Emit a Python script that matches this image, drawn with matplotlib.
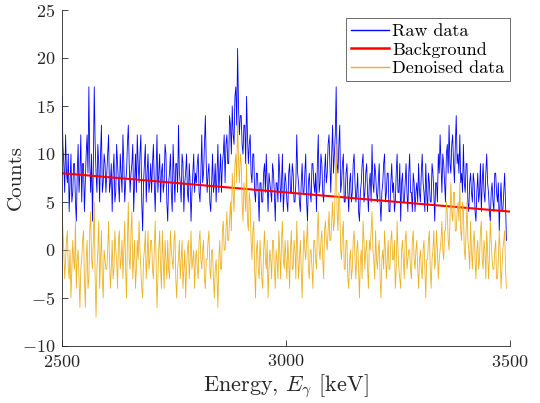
import numpy as np
import matplotlib
matplotlib.use("Agg")
import matplotlib.pyplot as plt

plt.rcParams['font.family'] = 'serif'
plt.rcParams['font.serif'] = ['cmr10', 'DejaVu Serif']
plt.rcParams['mathtext.fontset'] = 'cm'
plt.rcParams['axes.unicode_minus'] = False
plt.rcParams['axes.formatter.use_mathtext'] = True

# energy bins [keV], 2 keV wide
energy = np.arange(2500, 3501, 2)

raw = [
    16, 11, 9, 6, 12, 8, 7, 10, 4, 7, 10, 5, 6, 9, 9, 5, 3, 8, 11, 6, 8, 12, 5, 9, 9,
    4, 7, 10, 12, 8, 17, 9, 6, 10, 3, 9, 17, 11, 8, 6, 11, 9, 5, 10, 13, 6, 7, 10, 9, 6,
    8, 10, 12, 6, 7, 9, 4, 8, 10, 5, 6, 11, 9, 7, 5, 10, 8, 6, 12, 9, 5, 7, 8, 11, 13,
    9, 6, 8, 9, 11, 4, 7, 10, 6, 12, 9, 7, 10, 12, 5, 2, 7, 9, 11, 5, 8, 10, 6, 7, 9,
    6, 9, 11, 7, 4, 8, 12, 6, 8, 10, 5, 8, 9, 6, 7, 11, 10, 5, 3, 7, 8, 10, 6, 4, 11,
    8, 5, 9, 9, 6, 13, 8, 7, 5, 10, 9, 4, 7, 8, 10, 6, 5, 9, 7, 3, 6, 8, 10, 6, 8,
    7, 9, 10, 6, 5, 8, 12, 7, 8, 11, 14, 9, 6, 8, 9, 5, 4, 7, 10, 6, 7, 9, 5, 8, 11,
    6, 8, 10, 6, 9, 10, 12, 7, 11, 12, 9, 9, 14, 13, 10, 15, 12, 11, 16, 17, 13, 21, 15, 12, 14,
    14, 11, 10, 13, 13, 9, 16, 12, 9, 11, 12, 8, 7, 10, 10, 6, 5, 8, 8, 6, 3, 7, 7, 5, 5,
    8, 9, 6, 10, 7, 4, 8, 7, 6, 5, 9, 8, 6, 3, 7, 7, 5, 10, 8, 5, 7, 10, 4, 6, 8,
    7, 5, 4, 8, 9, 6, 6, 9, 8, 5, 5, 7, 12, 8, 7, 5, 4, 7, 9, 6, 6, 8, 10, 5, 3,
    7, 8, 6, 5, 9, 9, 7, 6, 8, 4, 9, 12, 6, 7, 10, 9, 6, 5, 8, 10, 7, 8, 11, 12, 9,
    6, 10, 13, 8, 10, 12, 17, 9, 8, 11, 13, 6, 7, 9, 10, 5, 5, 8, 9, 6, 4, 7, 8, 5,
    6, 9, 10, 7, 5, 6, 8, 4, 3, 6, 7, 9, 10, 5, 6, 8, 9, 6, 4, 7, 8, 5, 11, 7, 6, 9,
    8, 6, 5, 7, 9, 5, 3, 6, 7, 9, 10, 5, 6, 8, 8, 4, 4, 7, 9, 6, 7, 4, 5, 8, 10, 6,
    6, 9, 3, 7, 8, 5, 5, 7, 9, 6, 4, 8, 10, 6, 6, 4, 8, 7, 4, 6,
    7, 5, 9, 6, 5, 8, 10, 7, 6, 4, 9, 6, 4, 8, 7, 5, 5, 9, 8, 6, 3, 7, 7, 5, 10,
    8, 12, 9, 6, 10, 9, 7, 5, 10, 11, 8, 13, 9, 8, 11, 12, 9, 7, 11, 14, 9, 10, 8, 12, 7,
    8, 6, 11, 7, 6, 9, 9, 5, 4, 7, 8, 6, 5, 8, 7, 4, 3, 6, 8, 5, 6, 9, 4, 7, 9,
    6, 5, 8, 10, 7, 6, 4, 3, 6, 7, 5, 4, 8, 8, 6, 5, 7, 2, 5, 7, 4, 4, 6, 8, 5, 1,
]

denoised = [
    5, 2, 0, -3, -1, 1, 2, -2, -3, 0, -5, -2, 1, -1, -2, 3, -4, -1, 0, -3, -6, -2, -1, 1, 2,
    -3, -6, -1, 1, -4, -3, 2, 4, -1, -2, 1, 5, -3, -7, -2, 0, 3, -4, -1, 2, -3, -5, 0, -1, -2,
    -2, 0, 3, -1, -4, -2, 1, -3, -2, 2, 0, -1, -4, 1, 2, -2, -1, 1, -3, 0, 3, -2, -5, 1, 5,
    -1, -2, 2, 4, -3, -1, 1, -4, -2, 1, -1, 3, 0, -2, -4, -5, -1, 0, 2, -3, -1, 2, -2, -1, 1,
    1, -2, -3, 0, 3, -1, -6, -3, 0, 2, -2, -4, 2, -1, -4, 1, -1, -3, 1, -2, -3, 2, 0, -1, -2,
    1, 2, -3, -5, -2, -1, 1, -3, -1, 1, -4, -2, 0, -5, -2, 0, 1, -3, -1, 2, -2, -1, 0, -4, -1,
    0, -2, -3, 1, 2, -1, -2, 0, 1, -3, -4, -1, -1, 1, 2, -2, -3, 0, 0, -3, -5, -2, -1, -3, -6,
    -1, 1, -2, -2, 2, 3, 0, 0, 2, 4, 1, 1, 3, 5, 2, 8, 6, 4, 9, 10, 7, 14, 9, 7, 10,
    9, 5, 3, 7, 6, 4, 9, 3, 2, 6, 5, 1, -1, 2, 3, -2, -5, 0, 1, -2, -3, 1, -1, -3, -4,
    0, 2, -1, -2, 1, -5, -2, 0, -1, -3, 1, 1, -2, -4, 0, -1, -3, 2, 0, -3, 1, 3, -1, -2, 1,
    -1, -3, 1, -1, -4, 0, 2, -2, -2, 1, 0, -3, 3, 0, -3, -1, 1, -2, -5, -1, 2, 0, -1, 1,
    3, -2, -3, 0, 0, -2, -4, 1, 1, -1, -2, 2, 4, 0, -1, 1, 2, -1, -3, 2, 3, 1, 0, 2, 4, 1,
    1, 3, 5, 2, 3, 7, 11, 4, 2, 6, 5, 0, -1, 2, 3, -2, -2, 1, 1, -3, -4, -1, 0, -3,
    -2, 1, 2, -1, -3, 0, 1, -2, -5, -1, 0, -3, 3, 1, -2, 0, 1, -2, -4, 1, 0, 2, 4, 0, -1, -3,
    2, -1, -2, 0, 1, -3, -5, -1, 0, -2, 2, 0, -3, -1, 1, -2, -2, 1, 2, -1, -1, 1, -4, -2,
    3, 0, -2, -3, -4, 0, 1, -1, -3, 1, 2, -2, -1, 0, 0, -2, -3, 1, 2, -1, -2, 0, 1, -2, -4, -1,
    0, -2, -3, 0, 1, -2, -5, -1, -1, 1, 2, -2, -4, -1, 0, 2, -2, -1, 2, 0, -3, -1, 0, 1,
    3, 0, -1, 2, 2, 5, 4, 1, 0, 3, 7, 4, 3, 6, 6, 2, 2, 4, 5, 3, 7, 2, 1, 5, 4, 0,
    -1, 2, 5, 1, 0, -2, 3, 0, -2, 1, 2, -1, -3, 0, 1, -2, -1, 2, 3, -1, -2, 1, 0, -3,
    2, 0, -3, -1, 3, 1, -1, -2, -2, 0, 1, -3, -3, -1, 2, 0, -4, -2, 0, 1, 2, -2, -4, -1, 1, -3, -4,
]

# linear background, end points
bg_energy = [2500, 3500]
bg_counts = [8.0, 4.0]

fig = plt.figure(figsize=(5.4, 4.03), dpi=100)
ax = fig.add_axes([62 / 540, 57 / 403, 448 / 540, 336 / 403])

n = min(len(energy), len(raw), len(denoised))
ax.plot(energy[:n], raw[:n], color='#0000FF', lw=0.6, label='Raw data')
ax.plot(bg_energy, bg_counts, color='#FF0000', lw=1.5, label='Background')
ax.plot(energy[:n], denoised[:n], color='#EDB120', lw=0.6, label='Denoised data')

ax.set_xlim(2500, 3500)
ax.set_ylim(-10, 25)
ax.set_xticks([2500, 3000, 3500])
ax.set_yticks(np.arange(-10, 26, 5))
ax.tick_params(direction='in', labelsize=13, length=4, width=0.6, colors='#262626')
ax.tick_params(axis='y', pad=5)
ax.tick_params(axis='x', pad=5)
for s in ['top', 'right']:
    ax.spines[s].set_visible(False)
for s in ['left', 'bottom']:
    ax.spines[s].set_color('#262626')
    ax.spines[s].set_linewidth(0.6)

ax.set_xlabel(r'Energy, $E_\gamma$ [keV]', fontsize=16, color='#262626', labelpad=2)
ax.set_ylabel('Counts', fontsize=15, color='#262626')
ax.yaxis.set_label_coords(-0.083, 0.5)

leg = ax.legend(loc='upper right', bbox_to_anchor=(1.0, 0.976), borderaxespad=0,
                fontsize=13, fancybox=False, framealpha=1, edgecolor='#555555',
                handlelength=2.1, handletextpad=0.2, labelspacing=0.15,
                borderpad=0.3)
leg.get_frame().set_linewidth(0.6)
for line in leg.get_lines():
    line.set_linewidth(1.0 if line.get_color() != '#FF0000' else 1.8)

fig.savefig('out.png', dpi=100)
